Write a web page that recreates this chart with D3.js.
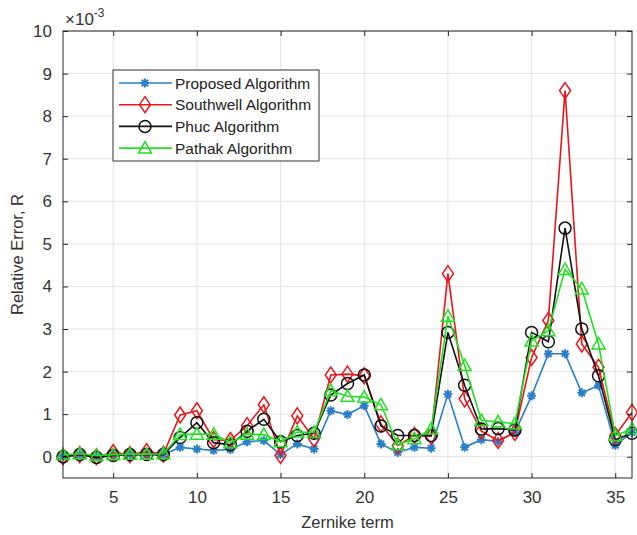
<!DOCTYPE html>
<html>
<head>
<meta charset="utf-8">
<script src="https://cdn.jsdelivr.net/npm/d3@7"></script>
<style>
  body { margin: 0; background: #fff; }
  svg text { font-family: "Liberation Sans", Arial, sans-serif; fill: #262626; }
</style>
</head>
<body>
<div id="chart"></div>
<script>
// Zernike terms 2..36
var terms = d3.range(2, 37);
var proposed = [0.02, 0.05, 0.0, 0.05, 0.05, 0.05, 0.05,
  0.22, 0.18, 0.15, 0.17, 0.35, 0.38, 0.05, 0.3, 0.18, 1.08, 0.99, 1.2, 0.3, 0.1,
  0.22, 0.2, 1.47, 0.22, 0.4, 0.36, 0.57, 1.43, 2.42, 2.42, 1.5, 1.67, 0.27, 0.57];
var southwell = [0.0, 0.05, 0.0, 0.1, 0.05, 0.12, 0.06,
  0.98, 1.08, 0.4, 0.38, 0.73, 1.22, 0.03, 0.96, 0.42, 1.92, 1.94, 1.9, 0.77, 0.26,
  0.5, 0.48, 4.3, 1.36, 0.6, 0.38, 0.57, 2.33, 3.2, 8.6, 2.65, 2.1, 0.5, 1.04];
var phuc = [0.0, 0.05, -0.02, 0.03, 0.05, 0.05, 0.05,
  0.45, 0.8, 0.33, 0.28, 0.6, 0.88, 0.35, 0.5, 0.55, 1.45, 1.72, 1.92, 0.72, 0.5,
  0.5, 0.5, 2.92, 1.68, 0.65, 0.66, 0.63, 2.92, 2.7, 5.37, 3.0, 1.9, 0.4, 0.55];
var pathak = [0.05, 0.07, 0.03, 0.05, 0.06, 0.06, 0.07,
  0.52, 0.53, 0.53, 0.33, 0.53, 0.52, 0.35, 0.58, 0.57, 1.55, 1.42, 1.4, 1.22, 0.28,
  0.42, 0.65, 3.3, 2.14, 0.85, 0.82, 0.77, 2.72, 2.96, 4.4, 3.94, 2.65, 0.5, 0.65];
var seriesNames = ["Proposed Algorithm", "Southwell Algorithm", "Phuc Algorithm", "Pathak Algorithm"];
var xTicks = [5, 10, 15, 20, 25, 30, 35];
var yTicks = d3.range(0, 11);

var opt = {
  width: 637, height: 535,
  margin: {top: 31, right: 5, bottom: 57, left: 63}
};
var inW = opt.width - opt.margin.left - opt.margin.right;
var inH = opt.height - opt.margin.top - opt.margin.bottom;

var svg = d3.select("#chart").append("svg")
  .attr("width", opt.width)
  .attr("height", opt.height);
var g = svg.append("g")
  .attr("transform", `translate(${opt.margin.left},${opt.margin.top})`);

var x = d3.scaleLinear().domain([2, 36]).range([0, inW]);
var y = d3.scaleLinear().domain([-0.5, 10]).range([inH, 0]);

// grid
g.append("g").selectAll("line").data(xTicks).enter().append("line")
  .attr("x1", d => x(d)).attr("x2", d => x(d))
  .attr("y1", 0).attr("y2", inH)
  .style("stroke", "#e3e3e3").style("stroke-width", 1);
g.append("g").selectAll("line").data(yTicks).enter().append("line")
  .attr("y1", d => y(d)).attr("y2", d => y(d))
  .attr("x1", 0).attr("x2", inW)
  .style("stroke", "#e3e3e3").style("stroke-width", 1);

// series
var colors = ["#2a7fc8", "#e8161b", "#111111", "#22e022"];
var data = [proposed, southwell, phuc, pathak];
var shapes = ["star", "diamond", "circle", "triangle"];

function marker(sel, shape, color) {
  if (shape === "circle") {
    sel.append("circle").attr("r", 6).style("fill", "none")
      .style("stroke", color).style("stroke-width", 1.5);
  } else if (shape === "diamond") {
    sel.append("path").attr("d", "M0,-8L5.5,0L0,8L-5.5,0Z").style("fill", "none")
      .style("stroke", color).style("stroke-width", 1.5);
  } else if (shape === "triangle") {
    sel.append("path").attr("d", "M0,-6.5L6.5,5L-6.5,5Z").style("fill", "none")
      .style("stroke", color).style("stroke-width", 1.5);
  } else {
    sel.append("path").attr("d", "M-4.5,0L4.5,0M0,-4.5L0,4.5M-3.2,-3.2L3.2,3.2M-3.2,3.2L3.2,-3.2")
      .style("stroke", color).style("stroke-width", 2);
  }
}

var line = d3.line().x((d, i) => x(terms[i])).y(d => y(d));
data.forEach(function(vals, k) {
  var sg = g.append("g").attr("class", "series");
  sg.append("path").attr("d", line(vals))
    .style("fill", "none").style("stroke", colors[k]).style("stroke-width", 1.6);
  sg.selectAll("g.m").data(vals).enter().append("g")
    .attr("class", "m")
    .attr("transform", (d, i) => `translate(${x(terms[i])},${y(d)})`)
    .each(function() { marker(d3.select(this), shapes[k], colors[k]); });
});

// axes box
var axisColor = "#262626";
g.append("rect").attr("width", inW).attr("height", inH)
  .style("fill", "none").style("stroke", axisColor).style("stroke-width", 1);
var xa = g.append("g").attr("transform", `translate(0,${inH})`)
  .call(d3.axisBottom(x).tickValues(xTicks).tickSize(-5).tickPadding(13));
var xt = g.append("g")
  .call(d3.axisTop(x).tickValues(xTicks).tickSize(-5).tickFormat(""));
var ya = g.append("g")
  .call(d3.axisLeft(y).tickValues(yTicks).tickSize(-5).tickPadding(11));
var yr = g.append("g").attr("transform", `translate(${inW},0)`)
  .call(d3.axisRight(y).tickValues(yTicks).tickSize(-5).tickFormat(""));
[xa, xt, ya, yr].forEach(function(a) {
  a.select(".domain").remove();
  a.selectAll(".tick line").style("stroke", axisColor);
  a.selectAll("text").style("font-size", "17px")
    .style("font-family", "'Liberation Sans', Arial, sans-serif").style("fill", "#333");
});

// exponent label
var ex = svg.append("text").attr("x", opt.margin.left + 2).attr("y", 25)
  .style("font-size", "17px").style("fill", "#333");
ex.append("tspan").text("\u00d710");
ex.append("tspan").attr("dy", -8).style("font-size", "12px").text("-3");

// axis titles
svg.append("text").attr("x", opt.margin.left + inW / 2).attr("y", 528)
  .attr("text-anchor", "middle").style("font-size", "16.5px").style("fill", "#333")
  .text("Zernike term");
svg.append("text").attr("transform", `translate(23,${opt.margin.top + inH / 2}) rotate(-90)`)
  .attr("text-anchor", "middle").style("font-size", "16.5px").style("fill", "#333")
  .text("Relative Error, R");

// legend
var lg = svg.append("g").attr("transform", "translate(113,70)");
lg.append("rect").attr("width", 206).attr("height", 91)
  .style("fill", "#fff").style("stroke", "#333").style("stroke-width", 1);
seriesNames.forEach(function(name, k) {
  var row = lg.append("g").attr("transform", `translate(0,${13 + k * 21.7})`);
  row.append("line").attr("x1", 6).attr("x2", 59).attr("y1", 0).attr("y2", 0)
    .style("stroke", colors[k]).style("stroke-width", 1.6);
  marker(row.append("g").attr("transform", "translate(32,0)"), shapes[k], colors[k]);
  row.append("text").attr("x", 62).attr("y", 5.5).style("font-size", "15.5px")
    .style("fill", "#222").text(name);
});
</script>
</body>
</html>
